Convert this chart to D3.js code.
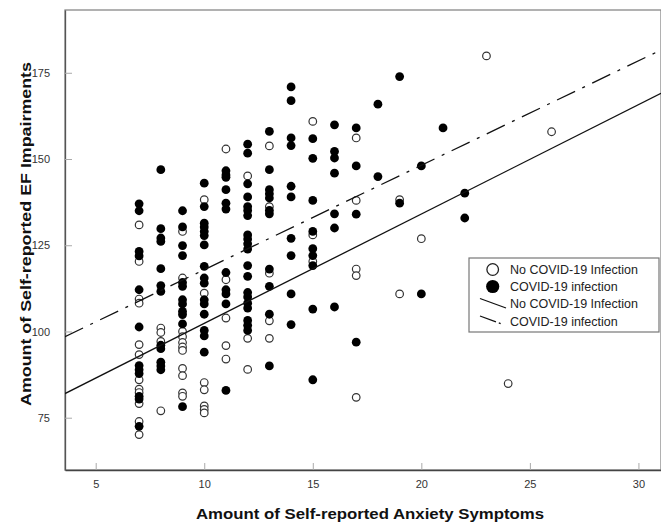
<!DOCTYPE html>
<html>
<head>
<meta charset="utf-8">
<script src="https://cdn.jsdelivr.net/npm/d3@7"></script>
<style>
  html, body { margin: 0; padding: 0; background: #fff; }
  svg { display: block; }
  text { font-family: "Liberation Sans", Arial, sans-serif; }
</style>
</head>
<body>
<svg id="chart" width="661" height="525"></svg>
<script>
// ---- data ----
const xTicks = [5, 10, 15, 20, 25, 30];
const yTicks = [75, 100, 125, 150, 175];
const xTitle = "Amount of Self-reported Anxiety Symptoms";
const yTitle = "Amount of Self-reported EF Impairments";
const legendLabels = ["No COVID-19 Infection", "COVID-19 infection", "No COVID-19 Infection", "COVID-19 infection"];

// No COVID-19 infection (open circles): [anxiety, EF]
const noCovidPoints = [
  [7,130.9],[7,120.3],[7,109.4],[7,108.2],[7,96.2],[7,93.3],[7,86.0],[7,83.3],[7,82.3],[7,79.1],[7,73.9],[7,70.1],
  [8,101.0],[8,99.7],[8,97.1],[8,77.0],
  [9,129.0],[9,115.5],[9,100.0],[9,98.5],[9,96.8],[9,95.5],[9,94.5],[9,89.3],[9,87.2],[9,82.2],[9,81.2],
  [10,138.2],[10,111.1],[10,85.2],[10,83.1],[10,78.4],[10,77.4],[10,76.4],
  [11,152.9],[11,115.0],[11,103.9],[11,95.9],[11,92.0],
  [12,145.1],[12,98.0],[12,89.0],
  [13,153.8],[13,136.2],[13,116.9],[13,103.1],[13,98.0],
  [15,160.9],[15,128.0],[15,120.3],
  [17,156.1],[17,138.0],[17,118.1],[17,116.2],[17,80.9],
  [19,138.2],[19,110.9],
  [20,126.9],
  [23,179.9],
  [24,84.9],
  [26,157.9]
];

// COVID-19 infection (filled circles): [anxiety, EF]
const covidPoints = [
  [7,137.0],[7,135.0],[7,123.2],[7,121.9],[7,112.1],[7,101.3],[7,90.1],[7,88.9],[7,87.8],[7,81.2],[7,80.4],[7,72.5],
  [8,146.9],[8,129.8],[8,127.1],[8,126.1],[8,118.2],[8,113.3],[8,111.6],[8,96.0],[8,95.0],[8,91.1],[8,90.0],[8,88.9],
  [9,135.0],[9,130.3],[9,124.9],[9,122.0],[9,114.2],[9,113.1],[9,109.2],[9,108.0],[9,105.8],[9,104.9],[9,102.2],[9,78.2],
  [10,143.0],[10,136.2],[10,131.4],[10,130.3],[10,129.0],[10,127.8],[10,125.1],[10,118.9],[10,115.5],[10,114.0],[10,109.2],[10,108.0],[10,105.0],[10,100.3],[10,98.7],[10,94.0],
  [11,146.6],[11,145.4],[11,144.7],[11,141.1],[11,137.2],[11,135.5],[11,117.1],[11,112.1],[11,110.9],[11,108.0],[11,82.9],
  [12,154.3],[12,151.7],[12,142.8],[12,139.0],[12,136.2],[12,135.1],[12,133.6],[12,128.0],[12,126.8],[12,125.4],[12,123.9],[12,119.1],[12,116.0],[12,111.3],[12,110.0],[12,108.2],[12,106.8],[12,103.2],[12,101.8],[12,100.3],
  [13,158.0],[13,146.9],[13,141.1],[13,139.9],[13,138.7],[13,135.1],[13,134.1],[13,118.1],[13,113.1],[13,105.0],[13,90.0],
  [14,170.9],[14,166.9],[14,156.1],[14,153.9],[14,142.1],[14,139.0],[14,127.0],[14,122.0],[14,110.9],[14,102.0],
  [15,155.9],[15,150.2],[15,138.0],[15,129.0],[15,124.0],[15,122.0],[15,119.1],[15,106.5],[15,86.0],
  [16,159.9],[16,152.2],[16,150.3],[16,145.9],[16,134.1],[16,130.0],[16,107.1],
  [17,159.0],[17,148.0],[17,134.0],[17,96.9],
  [18,165.9],[18,144.9],
  [19,173.9],[19,137.2],
  [20,148.0],[20,110.9],
  [21,159.0],
  [22,140.1],[22,132.9]
];

// Fit lines: EF = intercept + slope * anxiety
const fitNoCovid = { intercept: 70.63, slope: 3.171 };
const fitCovid = { intercept: 87.64, slope: 3.027 };

// ---- layout ----
const svg = d3.select("#chart");
const plot = { left: 65, right: 661, top: 10, bottom: 470 };

const x = d3.scaleLinear().domain([3.586, 31.04]).range([plot.left, plot.right]);
const y = d3.scaleLinear().domain([59.84, 193.2]).range([plot.bottom, plot.top]);

svg.append("defs").append("clipPath").attr("id", "clip")
  .append("rect")
  .attr("x", plot.left).attr("y", plot.top)
  .attr("width", plot.right - plot.left).attr("height", plot.bottom - plot.top);

// frame
svg.append("rect")
  .attr("x", plot.left).attr("y", plot.top)
  .attr("width", plot.right - plot.left).attr("height", plot.bottom - plot.top)
  .attr("fill", "#fff").attr("stroke", "#888").attr("stroke-width", 1.3);

// axes with inward ticks
const xAxis = d3.axisBottom(x).tickValues(xTicks).tickSizeInner(-7).tickSizeOuter(0).tickPadding(10);
const gx = svg.append("g").attr("transform", `translate(0,${plot.bottom})`).call(xAxis);
gx.select(".domain").attr("stroke", "#444").attr("stroke-width", 1.3);
gx.selectAll(".tick line").attr("stroke", "#aaa").attr("stroke-width", 1);
gx.selectAll(".tick text").attr("font-size", 11).attr("fill", "#333")
  .attr("font-family", "'Liberation Sans', Arial, sans-serif");

const yAxis = d3.axisLeft(y).tickValues(yTicks).tickSizeInner(-7).tickSizeOuter(0).tickPadding(15);
const gy = svg.append("g").attr("transform", `translate(${plot.left},0)`).call(yAxis);
gy.select(".domain").attr("stroke", "#555").attr("stroke-width", 1.3);
gy.selectAll(".tick line").attr("stroke", "#aaa").attr("stroke-width", 1);
gy.selectAll(".tick text").attr("font-size", 11).attr("fill", "#333")
  .attr("font-family", "'Liberation Sans', Arial, sans-serif");

// points
const pts = svg.append("g").attr("clip-path", "url(#clip)");
pts.selectAll("circle.open").data(noCovidPoints).join("circle")
  .attr("class", "open")
  .attr("cx", d => x(d[0])).attr("cy", d => y(d[1])).attr("r", 3.8)
  .attr("fill", "#fff").attr("stroke", "#333").attr("stroke-width", 1.2);
pts.selectAll("circle.fill").data(covidPoints).join("circle")
  .attr("class", "fill")
  .attr("cx", d => x(d[0])).attr("cy", d => y(d[1])).attr("r", 4.4)
  .attr("fill", "#000");

// fit lines
const xd = x.domain();
const lineGen = d3.line().x(d => x(d[0])).y(d => y(d[1]));
function fitPts(f) { return xd.map(v => [v, f.intercept + f.slope * v]); }
const lines = svg.append("g").attr("clip-path", "url(#clip)");
lines.append("path").attr("d", lineGen(fitPts(fitNoCovid)))
  .attr("fill", "none").attr("stroke", "#111").attr("stroke-width", 1.3);
lines.append("path").attr("d", lineGen(fitPts(fitCovid)))
  .attr("fill", "none").attr("stroke", "#111").attr("stroke-width", 1.3)
  .attr("stroke-dasharray", "20,8,3,8");

// axis titles
svg.append("text")
  .attr("x", 370).attr("y", 519)
  .attr("text-anchor", "middle")
  .attr("font-size", 15).attr("font-weight", "bold").attr("fill", "#111")
  .attr("textLength", 348).attr("lengthAdjust", "spacingAndGlyphs")
  .text(xTitle);
svg.append("text")
  .attr("transform", `translate(31,${234}) rotate(-90)`)
  .attr("text-anchor", "middle")
  .attr("font-size", 15).attr("font-weight", "bold").attr("fill", "#111")
  .attr("textLength", 344).attr("lengthAdjust", "spacingAndGlyphs")
  .text(yTitle);

// legend
const lg = svg.append("g");
lg.append("rect").attr("x", 469).attr("y", 258).attr("width", 190).attr("height", 74)
  .attr("fill", "#fff").attr("stroke", "#777").attr("stroke-width", 1.2);
const rowY = [269.5, 286.5, 303.5, 321];
lg.append("circle").attr("cx", 492.7).attr("cy", rowY[0]).attr("r", 5.8)
  .attr("fill", "#fff").attr("stroke", "#222").attr("stroke-width", 1.3);
lg.append("circle").attr("cx", 492.7).attr("cy", rowY[1]).attr("r", 6.6)
  .attr("fill", "#000");
lg.append("line").attr("x1", 480).attr("y1", rowY[2] - 5).attr("x2", 506).attr("y2", rowY[2] + 4.5)
  .attr("stroke", "#111").attr("stroke-width", 1.3);
lg.append("line").attr("x1", 480).attr("y1", rowY[3] - 5).attr("x2", 502).attr("y2", rowY[3] + 3)
  .attr("stroke", "#111").attr("stroke-width", 1.3).attr("stroke-dasharray", "17,3,2,20");
lg.selectAll("text.lab").data(legendLabels).join("text")
  .attr("class", "lab")
  .attr("x", 510).attr("y", (d, i) => rowY[i] + 4.5)
  .attr("font-size", 12.5).attr("fill", "#222")
  .text(d => d);
</script>
</body>
</html>
